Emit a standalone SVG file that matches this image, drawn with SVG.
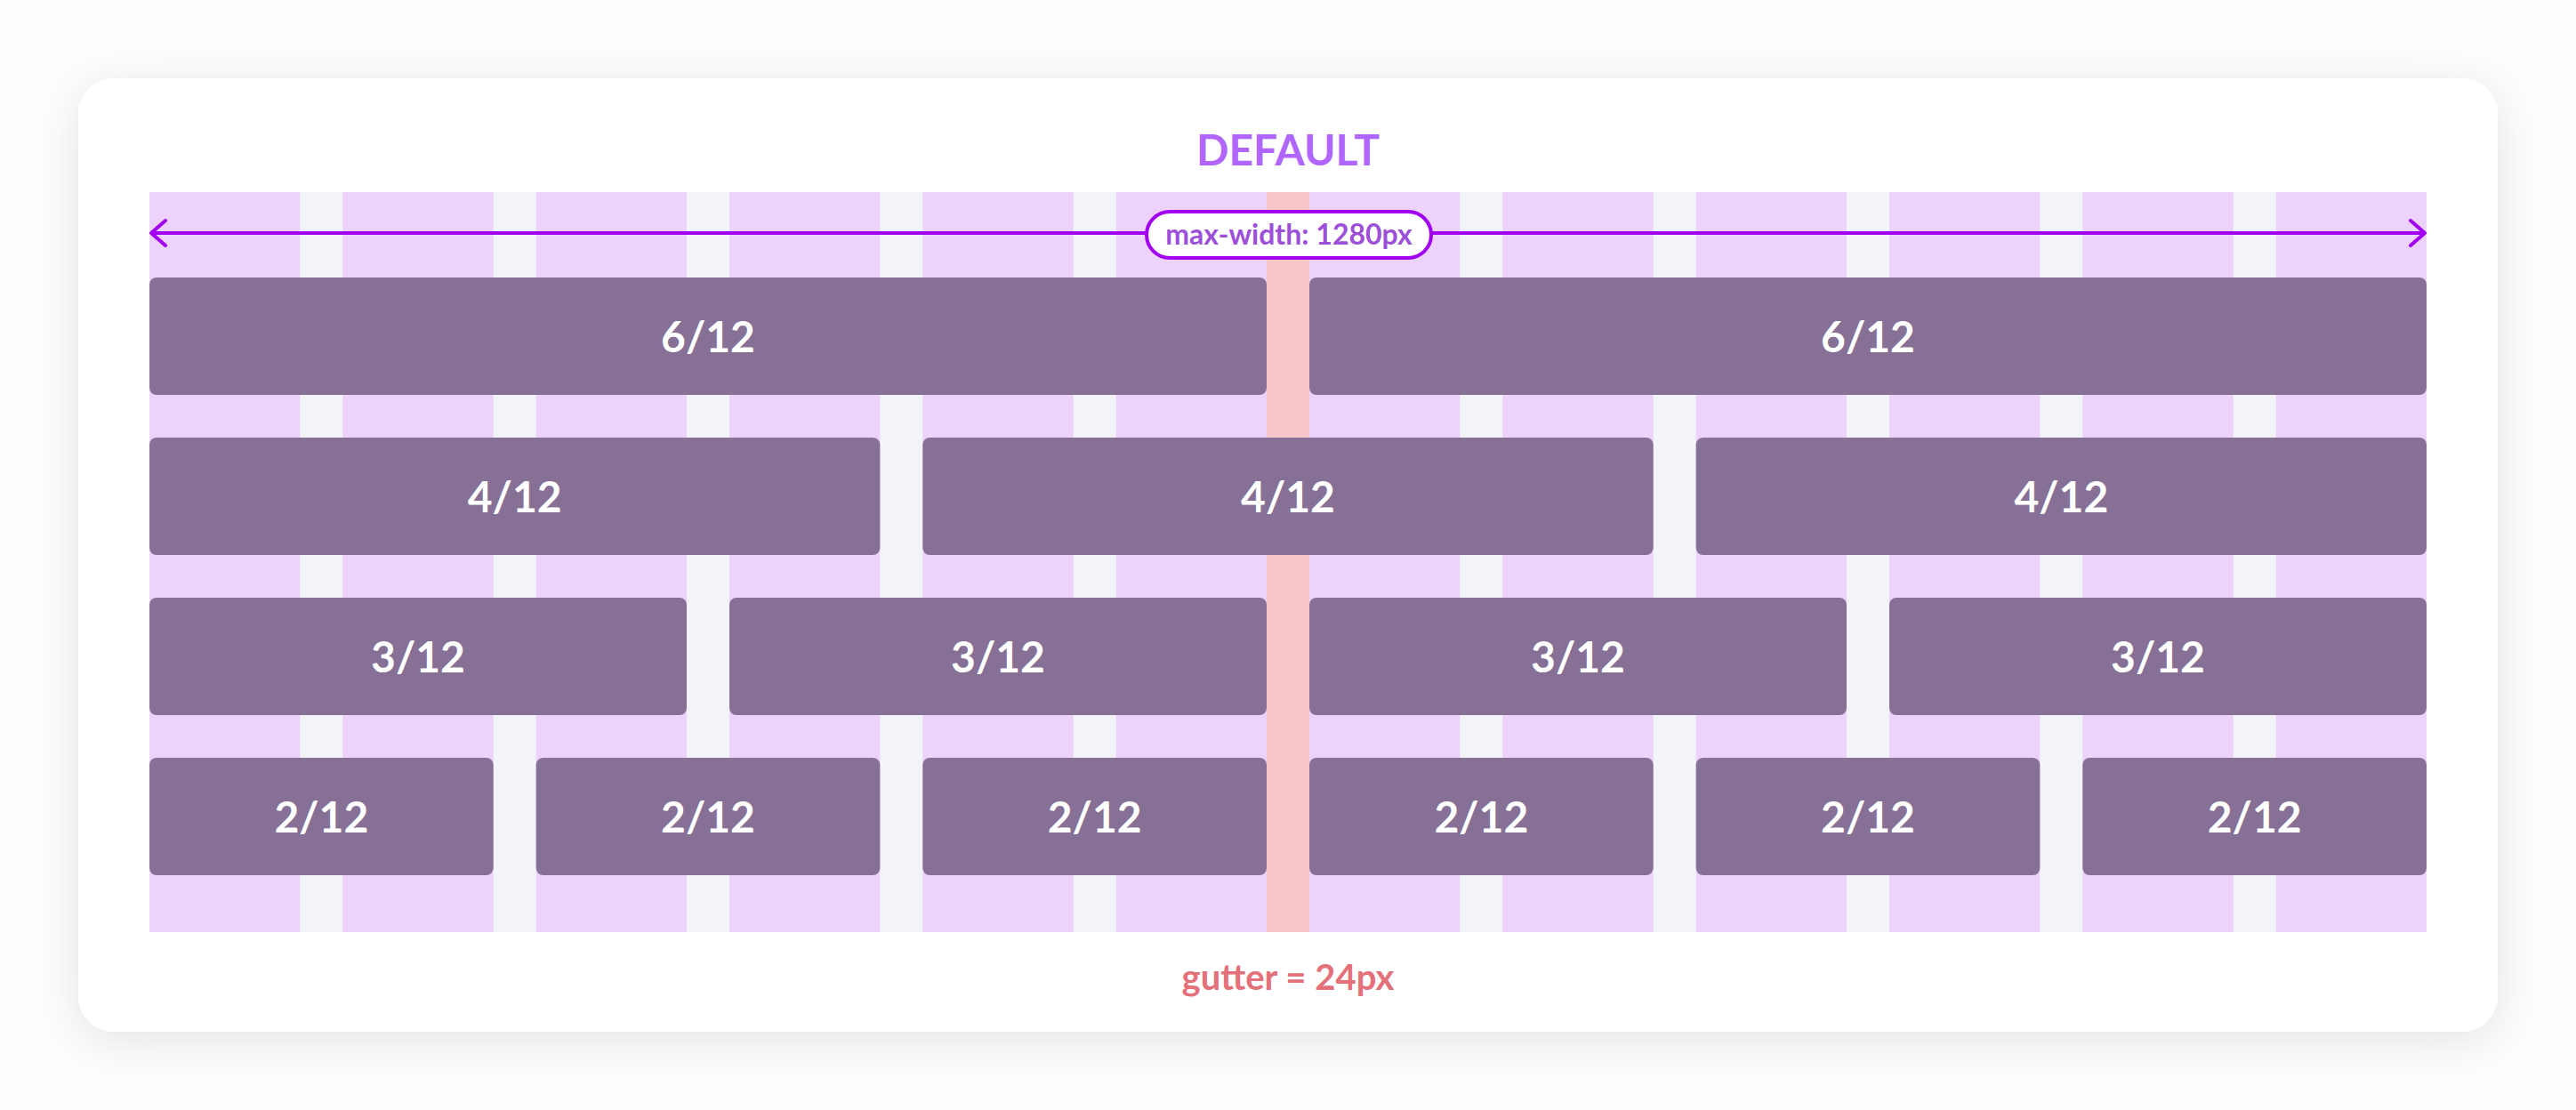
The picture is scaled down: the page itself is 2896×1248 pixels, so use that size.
<svg xmlns="http://www.w3.org/2000/svg" width="2896" height="1248" viewBox="0 0 2896 1248">
<style>
.col{fill:#edd2fc}
.box{fill:#867096}
.lbl{font-family:Lato,"Liberation Sans",sans-serif;font-weight:700;font-size:48px;fill:#ffffff;text-anchor:middle}
.title{font-family:Lato,"Liberation Sans",sans-serif;font-weight:700;text-anchor:middle}
</style>
<defs>
<filter id="sh" x="-10%" y="-20%" width="120%" height="140%">
<feDropShadow dx="0" dy="10" stdDeviation="28" flood-color="#000" flood-opacity="0.11"/>
</filter>
<marker id="ah" viewBox="0 0 20 32" refX="18" refY="16" markerWidth="20" markerHeight="32" markerUnits="userSpaceOnUse" orient="auto-start-reverse">
<path d="M2,2 L18,16 L2,30" fill="none" stroke="#a100f1" stroke-width="4" stroke-linecap="round" stroke-linejoin="round"/>
</marker>
</defs>
<rect width="2896" height="1248" fill="#fefefe"/>
<g id="card">
<rect x="88" y="88" width="2720" height="1072" rx="40" fill="#ffffff" filter="url(#sh)"/>
</g>
<g id="grid">
<rect x="168" y="216" width="2560" height="832" fill="#f3f4f8"/>
<rect class="col" x="168" y="216" width="169.333" height="832"/>
<rect class="col" x="385.333" y="216" width="169.333" height="832"/>
<rect class="col" x="602.667" y="216" width="169.333" height="832"/>
<rect class="col" x="820" y="216" width="169.333" height="832"/>
<rect class="col" x="1037.333" y="216" width="169.333" height="832"/>
<rect class="col" x="1254.667" y="216" width="169.333" height="832"/>
<rect class="col" x="1472" y="216" width="169.333" height="832"/>
<rect class="col" x="1689.333" y="216" width="169.333" height="832"/>
<rect class="col" x="1906.667" y="216" width="169.333" height="832"/>
<rect class="col" x="2124" y="216" width="169.333" height="832"/>
<rect class="col" x="2341.333" y="216" width="169.333" height="832"/>
<rect class="col" x="2558.667" y="216" width="169.333" height="832"/>
<rect id="gutter-highlight" x="1424" y="216" width="48" height="832" fill="#f5c5c9"/>
</g>
<text id="title" class="title" x="1448" y="186" font-size="48" fill="#b066fc">DEFAULT</text>
<g id="connectors">
<line x1="170" y1="262" x2="2726" y2="262" stroke="#a100f1" stroke-width="4" marker-start="url(#ah)" marker-end="url(#ah)"/>
</g>
<g id="max-width-label">
<rect x="1289" y="238" width="320" height="52" rx="26" fill="#ffffff" stroke="#a100f1" stroke-width="4"/>
<text class="title" x="1449" y="275" font-size="32" fill="#9c4fd8">max-width: 1280px</text>
</g>
<g id="row-6">
<g id="b6-1"><rect class="box" x="168" y="312" width="1256" height="132" rx="8"/><text class="lbl" x="796" y="396">6/12</text></g>
<g id="b6-2"><rect class="box" x="1472" y="312" width="1256" height="132" rx="8"/><text class="lbl" x="2100" y="396">6/12</text></g>
</g>
<g id="row-4">
<g id="b4-1"><rect class="box" x="168" y="492" width="821.333" height="132" rx="8"/><text class="lbl" x="578.667" y="576">4/12</text></g>
<g id="b4-2"><rect class="box" x="1037.333" y="492" width="821.333" height="132" rx="8"/><text class="lbl" x="1448" y="576">4/12</text></g>
<g id="b4-3"><rect class="box" x="1906.667" y="492" width="821.333" height="132" rx="8"/><text class="lbl" x="2317.333" y="576">4/12</text></g>
</g>
<g id="row-3">
<g id="b3-1"><rect class="box" x="168" y="672" width="604" height="132" rx="8"/><text class="lbl" x="470" y="756">3/12</text></g>
<g id="b3-2"><rect class="box" x="820" y="672" width="604" height="132" rx="8"/><text class="lbl" x="1122" y="756">3/12</text></g>
<g id="b3-3"><rect class="box" x="1472" y="672" width="604" height="132" rx="8"/><text class="lbl" x="1774" y="756">3/12</text></g>
<g id="b3-4"><rect class="box" x="2124" y="672" width="604" height="132" rx="8"/><text class="lbl" x="2426" y="756">3/12</text></g>
</g>
<g id="row-2">
<g id="b2-1"><rect class="box" x="168" y="852" width="386.667" height="132" rx="8"/><text class="lbl" x="361.333" y="936">2/12</text></g>
<g id="b2-2"><rect class="box" x="602.667" y="852" width="386.667" height="132" rx="8"/><text class="lbl" x="796" y="936">2/12</text></g>
<g id="b2-3"><rect class="box" x="1037.333" y="852" width="386.667" height="132" rx="8"/><text class="lbl" x="1230.667" y="936">2/12</text></g>
<g id="b2-4"><rect class="box" x="1472" y="852" width="386.667" height="132" rx="8"/><text class="lbl" x="1665.333" y="936">2/12</text></g>
<g id="b2-5"><rect class="box" x="1906.667" y="852" width="386.667" height="132" rx="8"/><text class="lbl" x="2100" y="936">2/12</text></g>
<g id="b2-6"><rect class="box" x="2341.333" y="852" width="386.667" height="132" rx="8"/><text class="lbl" x="2534.667" y="936">2/12</text></g>
</g>
<text id="gutter-label" class="title" x="1448" y="1113" font-size="40" fill="#e4707a">gutter = 24px</text>
</svg>
